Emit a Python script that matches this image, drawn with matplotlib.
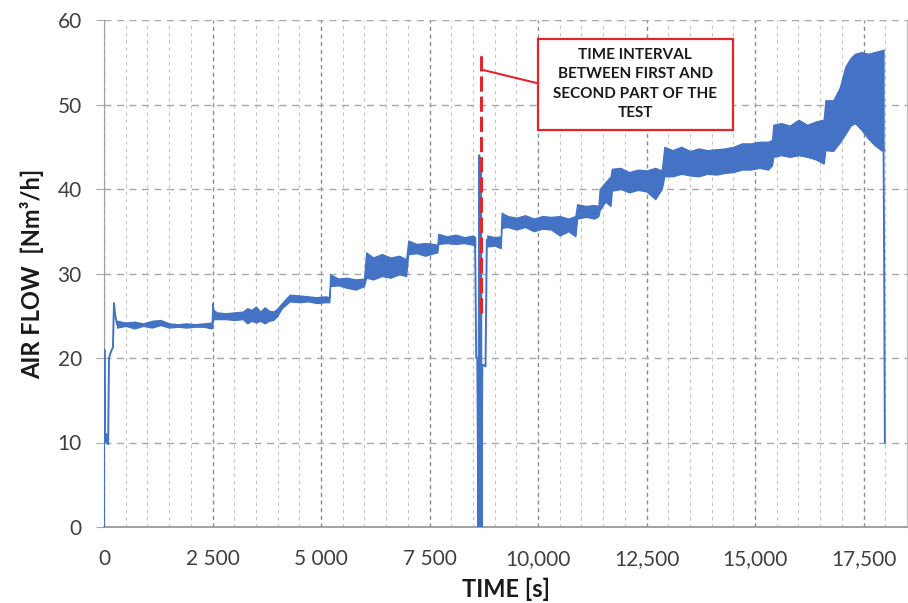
import matplotlib
matplotlib.use("Agg")
import matplotlib.pyplot as plt
from matplotlib.patches import Rectangle
from matplotlib.ticker import MultipleLocator, FixedLocator, FixedFormatter

# ---------------- data ----------------
# start-up transient (single trace)
start_t = [0, 5, 15, 25, 50, 75, 95, 115, 140, 180, 205, 230, 260, 300]
start_v = [0, 21, 20.8, 10, 11, 10, 9.8, 20, 20.4, 21, 21.2, 26.5, 25, 24]

# first part of the test: lower / upper envelope of the noisy signal
band1_t = [300, 500, 700, 900, 1100, 1300, 1500, 1700, 1900, 2100, 2300, 2480,
           2500, 2520, 2600, 2800, 3000, 3200, 3300, 3400, 3500, 3600, 3700, 3800, 3900, 3980,
           4100, 4280, 4500, 4700, 4900, 5100, 5190,
           5210, 5400, 5600, 5800, 5990,
           6040, 6200, 6400, 6600, 6800, 6960,
           7010, 7200, 7400, 7600, 7680,
           7700, 7900, 8100, 8300, 8500, 8550]
band1_lo = [23.6, 23.8, 23.5, 23.8, 23.6, 23.9, 23.6, 23.7, 23.6, 23.7, 23.7, 23.5,
            24.2, 24.6, 24.6, 24.6, 24.5, 24.6, 24.1, 24.4, 24.2, 24.4, 24.1, 24.4, 24.5, 24.9,
            25.9, 26.7, 26.6, 26.7, 26.5, 26.6, 26.6,
            28.5, 28.6, 28.3, 28.1, 28.5,
            29.5, 29.3, 29.7, 29.5, 29.9, 29.7,
            32.3, 32.4, 32.1, 32.4, 32.5,
            33.5, 33.6, 33.5, 33.6, 33.4, 33.1]
band1_hi = [24.4, 24.2, 24.3, 24.1, 24.4, 24.5, 24.1, 24.0, 24.1, 24.0, 24.1, 24.2,
            26.5, 25.7, 25.4, 25.3, 25.4, 25.5, 25.9, 25.7, 26.1, 25.5, 26.0, 25.6, 25.5, 25.8,
            26.5, 27.5, 27.4, 27.3, 27.2, 27.3, 27.2,
            29.9, 29.4, 29.5, 29.3, 29.4,
            32.5, 31.9, 32.3, 31.9, 32.1, 31.7,
            33.9, 33.5, 33.6, 33.5, 33.4,
            34.7, 34.4, 34.6, 34.3, 34.5, 34.3]

# interruption between the two parts (single trace)
gap_t = [8550, 8575, 8600, 8625, 8645, 8665, 8685, 8700, 8715, 8735, 8790, 8820, 8830]
gap_v = [34, 20, 20, 0, 44, 0, 43, 0, 19, 19.2, 19, 34, 33.8]

# second part of the test: lower / upper envelope
band2_t = [8830, 9000, 9140,
           9160, 9300, 9500, 9700, 9900, 10100, 10300, 10500, 10700, 10860,
           10900, 11100, 11300, 11390,
           11420, 11550, 11670,
           11700, 11900, 12100, 12300, 12500, 12700, 12850,
           12910, 13100, 13300, 13500, 13700, 13900, 14100, 14300, 14500, 14700,
           14900, 15100, 15300, 15390,
           15420, 15600, 15800, 16000, 16200, 16400, 16580,
           16620, 16800, 16950, 17080, 17200, 17300, 17450, 17600, 17750, 17900, 17960]
band2_lo = [33.2, 33.3, 33.0,
            35.4, 35.5, 35.2, 35.5, 35.0, 35.3, 35.2, 34.5, 35.0, 34.4,
            36.5, 36.7, 36.5, 36.8,
            37.5, 38.5, 38.0,
            39.8, 40.0, 39.6, 39.9, 39.7, 38.8, 40.0,
            41.5, 41.5, 41.8, 41.6, 41.5, 41.8, 41.7, 41.9, 42.0, 42.3,
            42.3, 42.5, 42.3, 42.8,
            43.8, 44.0, 43.8, 44.0, 43.8, 43.5, 43.0,
            44.6, 44.5, 45.5, 46.5, 47.5, 47.8, 47.0, 46.0, 45.2, 44.6, 44.5]
band2_hi = [34.5, 34.3, 34.4,
            37.2, 36.8, 36.6, 36.9, 36.5, 36.8, 36.7, 36.8, 36.5, 36.8,
            38.2, 38.0, 38.1, 38.0,
            40.0, 40.8, 41.5,
            42.4, 42.5, 42.0, 42.3, 42.2, 42.5, 42.2,
            45.0, 44.6, 45.0, 44.5, 44.8, 44.6, 44.7, 44.8, 45.0, 45.4,
            45.4, 45.6, 45.6, 45.8,
            47.6, 47.8, 47.5, 48.2, 47.6, 48.0, 48.2,
            50.5, 50.5, 52.0, 54.5, 55.5, 56.0, 56.2, 56.0, 56.2, 56.4, 56.5]

# shut-down
end_t = [17960, 17975, 17990]
end_v = [45, 30, 10]

x_ticks = [0, 2500, 5000, 7500, 10000, 12500, 15000, 17500]
x_tick_labels = ["0", "2 500", "5 000", "7 500", "10,000", "12,500", "15,000", "17,500"]
y_ticks = [0, 10, 20, 30, 40, 50, 60]

annotation_text = "TIME INTERVAL\nBETWEEN FIRST AND\nSECOND PART OF THE\nTEST"
interval_time = 8690

# ---------------- figure ----------------
plt.rcParams['font.family'] = ['Lato', 'DejaVu Sans']
blue = '#4472C4'
red = '#E3262C'

fig = plt.figure(figsize=(9.08, 6.03), dpi=100)
ax = fig.add_axes([104/908, 76/603, 803/908, 507/603])

ax.set_xlim(0, 18500)
ax.set_ylim(0, 60)

# grid
ax.set_yticks(y_ticks)
ax.xaxis.set_major_locator(FixedLocator(x_ticks))
ax.xaxis.set_major_formatter(FixedFormatter(x_tick_labels))
ax.xaxis.set_minor_locator(MultipleLocator(500))
ax.grid(axis='y', which='major', color='#a8a8a8', linestyle=(0, (5, 4)), linewidth=1.0, zorder=0)
ax.grid(axis='x', which='major', color='#8c8c8c', linestyle=(0, (3, 2.5)), linewidth=1.0, zorder=0)
ax.grid(axis='x', which='minor', color='#c4c4c4', linestyle=(0, (3, 3.5)), linewidth=0.8, zorder=0)
ax.set_axisbelow(True)

# spines
ax.spines['top'].set_visible(False)
ax.spines['left'].set_color('#a0a0a0')
ax.spines['bottom'].set_color('#9a9a9a')
ax.spines['bottom'].set_linewidth(1.3)
ax.spines['right'].set_color('#c0c0c0')

ax.tick_params(axis='y', which='major', length=6, color='#a8a8a8', pad=10,
               labelsize=15, labelcolor='#404040')
ax.tick_params(axis='x', which='major', length=0, pad=16, labelsize=15, labelcolor='#404040')
ax.tick_params(axis='x', which='minor', length=0)

# data
ax.plot(start_t, start_v, color=blue, linewidth=1.4, zorder=3)
ax.fill_between(band1_t, band1_lo, band1_hi, color=blue, linewidth=0.9,
                edgecolor=blue, zorder=3)
ax.plot(gap_t, gap_v, color=blue, linewidth=1.4, zorder=3)
ax.fill_between(band2_t, band2_lo, band2_hi, color=blue, linewidth=0.9,
                edgecolor=blue, zorder=3)
ax.plot(end_t, end_v, color=blue, linewidth=1.4, zorder=3)

# annotation
ax.plot([interval_time, interval_time], [25.3, 56.2], color=red, linewidth=2.2,
        linestyle=(0, (5, 1.6)), zorder=4)
ax.plot([interval_time + 30, 10000], [54.1, 52.5], color=red, linewidth=1.5, zorder=4)
ax.add_patch(Rectangle((10000, 47.0), 4480, 10.8, facecolor='white', edgecolor=red,
                       linewidth=1.6, zorder=5))
ax.text(12240, 52.4, annotation_text, ha='center', va='center', fontsize=11,
        fontweight='bold', color='#1a1a1a', linespacing=1.5, zorder=6)

# labels
ax.set_xlabel("TIME [s]", fontsize=17, fontweight='bold', color='#1a1a1a', labelpad=6)
ax.set_ylabel("AIR FLOW  [Nm³/h]", fontsize=17, fontweight='bold', color='#1a1a1a',
              labelpad=10)

fig.savefig("out.png", dpi=100)
